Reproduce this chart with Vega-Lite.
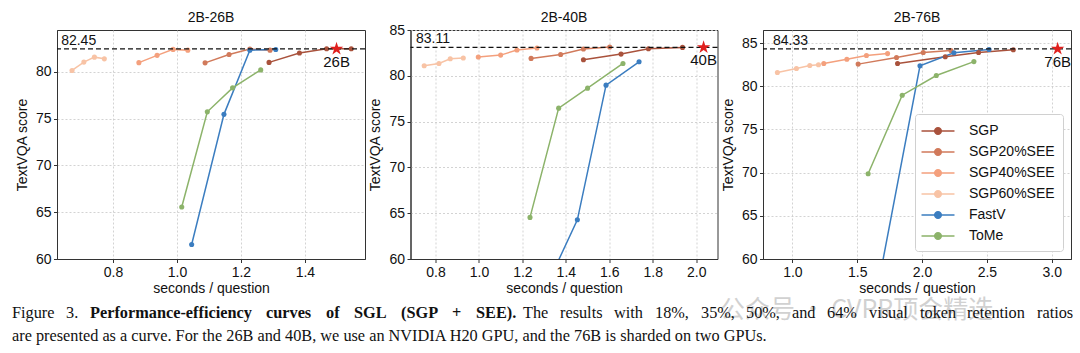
{
  "$schema": "https://vega.github.io/schema/vega-lite/v6.json",
  "padding": {"left": 12, "top": 10, "right": 5, "bottom": 5},
  "background": "white",
  "config": {
    "font": "Liberation Sans",
    "view": {"stroke": "#333333", "strokeWidth": 1},
    "axis": {
      "labelFont": "Liberation Sans", "labelFontSize": 14, "labelColor": "#111111",
      "titleFont": "Liberation Sans", "titleFontSize": 14, "titleFontWeight": "normal", "titleColor": "#111111",
      "tickSize": 3.5, "tickColor": "#333333", "domainColor": "#333333", "labelPadding": 2.5,
      "grid": true, "gridColor": "#c8c8c8", "gridDash": [2, 2], "gridWidth": 0.8
    },
    "axisX": {"titlePadding": 2},
    "axisY": {"titlePadding": 6}
  },
  "datasets": {
    "pts": [
      {"panel": "2B-26B", "method": "SGP60%SEE", "x": 0.672, "y": 80.14},
      {"panel": "2B-26B", "method": "SGP60%SEE", "x": 0.709, "y": 81.03},
      {"panel": "2B-26B", "method": "SGP60%SEE", "x": 0.742, "y": 81.56},
      {"panel": "2B-26B", "method": "SGP60%SEE", "x": 0.773, "y": 81.38},
      {"panel": "2B-26B", "method": "SGP40%SEE", "x": 0.881, "y": 80.97},
      {"panel": "2B-26B", "method": "SGP40%SEE", "x": 0.938, "y": 81.75},
      {"panel": "2B-26B", "method": "SGP40%SEE", "x": 0.988, "y": 82.39},
      {"panel": "2B-26B", "method": "SGP40%SEE", "x": 1.034, "y": 82.31},
      {"panel": "2B-26B", "method": "SGP20%SEE", "x": 1.088, "y": 80.95},
      {"panel": "2B-26B", "method": "SGP20%SEE", "x": 1.163, "y": 81.85},
      {"panel": "2B-26B", "method": "SGP20%SEE", "x": 1.228, "y": 82.42},
      {"panel": "2B-26B", "method": "SGP20%SEE", "x": 1.291, "y": 82.31},
      {"panel": "2B-26B", "method": "SGP", "x": 1.288, "y": 81.0},
      {"panel": "2B-26B", "method": "SGP", "x": 1.383, "y": 82.0},
      {"panel": "2B-26B", "method": "SGP", "x": 1.468, "y": 82.45},
      {"panel": "2B-26B", "method": "SGP", "x": 1.545, "y": 82.45},
      {"panel": "2B-26B", "method": "FastV", "x": 1.046, "y": 61.55},
      {"panel": "2B-26B", "method": "FastV", "x": 1.147, "y": 75.45},
      {"panel": "2B-26B", "method": "FastV", "x": 1.228, "y": 82.3},
      {"panel": "2B-26B", "method": "FastV", "x": 1.309, "y": 82.38},
      {"panel": "2B-26B", "method": "ToMe", "x": 1.015, "y": 65.55},
      {"panel": "2B-26B", "method": "ToMe", "x": 1.095, "y": 75.72},
      {"panel": "2B-26B", "method": "ToMe", "x": 1.174, "y": 78.28},
      {"panel": "2B-26B", "method": "ToMe", "x": 1.262, "y": 80.2},
      {"panel": "2B-40B", "method": "SGP60%SEE", "x": 0.748, "y": 81.09},
      {"panel": "2B-40B", "method": "SGP60%SEE", "x": 0.816, "y": 81.35},
      {"panel": "2B-40B", "method": "SGP60%SEE", "x": 0.868, "y": 81.86},
      {"panel": "2B-40B", "method": "SGP60%SEE", "x": 0.928, "y": 81.94},
      {"panel": "2B-40B", "method": "SGP40%SEE", "x": 0.997, "y": 82.05},
      {"panel": "2B-40B", "method": "SGP40%SEE", "x": 1.1, "y": 82.26},
      {"panel": "2B-40B", "method": "SGP40%SEE", "x": 1.175, "y": 82.81},
      {"panel": "2B-40B", "method": "SGP40%SEE", "x": 1.267, "y": 83.03},
      {"panel": "2B-40B", "method": "SGP20%SEE", "x": 1.24, "y": 81.9},
      {"panel": "2B-40B", "method": "SGP20%SEE", "x": 1.376, "y": 82.33},
      {"panel": "2B-40B", "method": "SGP20%SEE", "x": 1.481, "y": 82.92},
      {"panel": "2B-40B", "method": "SGP20%SEE", "x": 1.602, "y": 83.14},
      {"panel": "2B-40B", "method": "SGP", "x": 1.481, "y": 81.75},
      {"panel": "2B-40B", "method": "SGP", "x": 1.654, "y": 82.37},
      {"panel": "2B-40B", "method": "SGP", "x": 1.78, "y": 82.95},
      {"panel": "2B-40B", "method": "SGP", "x": 1.937, "y": 83.1},
      {"panel": "2B-40B", "method": "FastV", "x": 1.173, "y": 50.0},
      {"panel": "2B-40B", "method": "FastV", "x": 1.453, "y": 64.28},
      {"panel": "2B-40B", "method": "FastV", "x": 1.585, "y": 78.98},
      {"panel": "2B-40B", "method": "FastV", "x": 1.737, "y": 81.53},
      {"panel": "2B-40B", "method": "ToMe", "x": 1.235, "y": 64.54},
      {"panel": "2B-40B", "method": "ToMe", "x": 1.367, "y": 76.47},
      {"panel": "2B-40B", "method": "ToMe", "x": 1.5, "y": 78.65},
      {"panel": "2B-40B", "method": "ToMe", "x": 1.663, "y": 81.35},
      {"panel": "2B-76B", "method": "SGP60%SEE", "x": 0.884, "y": 81.59},
      {"panel": "2B-76B", "method": "SGP60%SEE", "x": 1.031, "y": 82.05},
      {"panel": "2B-76B", "method": "SGP60%SEE", "x": 1.134, "y": 82.4},
      {"panel": "2B-76B", "method": "SGP60%SEE", "x": 1.201, "y": 82.48},
      {"panel": "2B-76B", "method": "SGP40%SEE", "x": 1.242, "y": 82.63},
      {"panel": "2B-76B", "method": "SGP40%SEE", "x": 1.42, "y": 83.12},
      {"panel": "2B-76B", "method": "SGP40%SEE", "x": 1.571, "y": 83.56},
      {"panel": "2B-76B", "method": "SGP40%SEE", "x": 1.734, "y": 83.78},
      {"panel": "2B-76B", "method": "SGP20%SEE", "x": 1.507, "y": 82.56},
      {"panel": "2B-76B", "method": "SGP20%SEE", "x": 1.803, "y": 83.33},
      {"panel": "2B-76B", "method": "SGP20%SEE", "x": 2.009, "y": 83.91},
      {"panel": "2B-76B", "method": "SGP20%SEE", "x": 2.223, "y": 84.14},
      {"panel": "2B-76B", "method": "SGP", "x": 1.811, "y": 82.63},
      {"panel": "2B-76B", "method": "SGP", "x": 2.179, "y": 83.41},
      {"panel": "2B-76B", "method": "SGP", "x": 2.436, "y": 83.91},
      {"panel": "2B-76B", "method": "SGP", "x": 2.704, "y": 84.22},
      {"panel": "2B-76B", "method": "FastV", "x": 1.573, "y": 50.0},
      {"panel": "2B-76B", "method": "FastV", "x": 1.984, "y": 82.36},
      {"panel": "2B-76B", "method": "FastV", "x": 2.246, "y": 83.88},
      {"panel": "2B-76B", "method": "FastV", "x": 2.517, "y": 84.25},
      {"panel": "2B-76B", "method": "ToMe", "x": 1.584, "y": 69.87},
      {"panel": "2B-76B", "method": "ToMe", "x": 1.847, "y": 78.96},
      {"panel": "2B-76B", "method": "ToMe", "x": 2.11, "y": 81.24},
      {"panel": "2B-76B", "method": "ToMe", "x": 2.4, "y": 82.85}
    ],
    "refs": [
      {"panel": "2B-26B", "model": "26B", "x": 1.499, "y": 82.45},
      {"panel": "2B-40B", "model": "40B", "x": 2.034, "y": 83.11},
      {"panel": "2B-76B", "model": "76B", "x": 3.046, "y": 84.33}
    ],
    "caption": [
      {"seg": "a1", "text": "Figure"},
      {"seg": "a2", "text": "3."},
      {"seg": "b1", "text": "Performance-efficiency"},
      {"seg": "b2", "text": "curves"},
      {"seg": "b3", "text": "of"},
      {"seg": "b4", "text": "SGL"},
      {"seg": "b5", "text": "(SGP"},
      {"seg": "b6", "text": "+"},
      {"seg": "b7", "text": "SEE)."},
      {"seg": "c01", "text": "The"},
      {"seg": "c02", "text": "results"},
      {"seg": "c03", "text": "with"},
      {"seg": "c04", "text": "18%,"},
      {"seg": "c05", "text": "35%,"},
      {"seg": "c06", "text": "50%,"},
      {"seg": "c07", "text": "and"},
      {"seg": "c08", "text": "64%"},
      {"seg": "c09", "text": "visual"},
      {"seg": "c10", "text": "token"},
      {"seg": "c11", "text": "retention"},
      {"seg": "c12", "text": "ratios"},
      {"seg": "d", "text": "are presented as a curve. For the 26B and 40B, we use an NVIDIA H20 GPU, and the 76B is sharded on two GPUs."},
      {"seg": "w", "text": "公众号 · CVPR顶会精选"}
    ]
  },
  "vconcat": [
    {
      "hconcat": [
        {
          "width": 308, "height": 229,
          "title": {"text": "2B-26B", "font": "Liberation Sans", "fontSize": 14, "fontWeight": "normal", "color": "#111111", "offset": 5},
          "layer": [
            {
              "data": {"name": "pts"},
              "transform": [{"filter": "datum.panel === '2B-26B'"}],
              "mark": {"type": "line", "strokeWidth": 1.5, "clip": true, "point": {"filled": true, "size": 26, "opacity": 1}},
              "encoding": {
                "x": {"field": "x", "type": "quantitative", "scale": {"domain": [0.625, 1.588], "nice": false, "zero": false}, "axis": {"values": [0.8, 1.0, 1.2, 1.4], "format": ".1f", "title": "seconds / question"}},
                "y": {"field": "y", "type": "quantitative", "scale": {"domain": [60, 84.46], "nice": false, "zero": false}, "axis": {"values": [60, 65, 70, 75, 80], "title": "TextVQA score"}},
                "color": {"field": "method", "type": "nominal", "scale": {"domain": ["SGP", "SGP20%SEE", "SGP40%SEE", "SGP60%SEE", "FastV", "ToMe"], "range": ["#a9523c", "#d17a5b", "#f4a07d", "#f8c3a5", "#3b7dc0", "#8cb36a"]}, "legend": null}
              }
            },
            {
              "data": {"name": "refs"},
              "transform": [{"filter": "datum.panel === '2B-26B'"}],
              "mark": {"type": "rule", "color": "#111111", "strokeDash": [5, 3], "strokeWidth": 1.3},
              "encoding": {"y": {"field": "y", "type": "quantitative"}}
            },
            {
              "data": {"name": "refs"},
              "transform": [{"filter": "datum.panel === '2B-26B'"}],
              "mark": {"type": "point", "shape": "M0,-1L0.225,-0.309L0.951,-0.309L0.363,0.118L0.588,0.809L0,0.382L-0.588,0.809L-0.363,0.118L-0.951,-0.309L-0.225,-0.309Z", "filled": true, "color": "#e0201e", "size": 200, "opacity": 1},
              "encoding": {"x": {"field": "x", "type": "quantitative"}, "y": {"field": "y", "type": "quantitative"}}
            },
            {
              "data": {"name": "refs"},
              "transform": [{"filter": "datum.panel === '2B-26B'"}],
              "mark": {"type": "text", "align": "left", "baseline": "bottom", "dy": -1, "fontSize": 14, "color": "#111111"},
              "encoding": {"x": {"datum": 0.638}, "y": {"field": "y", "type": "quantitative"}, "text": {"field": "y", "type": "quantitative", "format": ".2f"}}
            },
            {
              "data": {"name": "refs"},
              "transform": [{"filter": "datum.panel === '2B-26B'"}],
              "mark": {"type": "text", "align": "center", "baseline": "top", "dy": 6, "fontSize": 15, "color": "#111111"},
              "encoding": {"x": {"field": "x", "type": "quantitative"}, "y": {"field": "y", "type": "quantitative"}, "text": {"field": "model"}}
            }
          ]
        },
        {
          "width": 307, "height": 229,
          "title": {"text": "2B-40B", "font": "Liberation Sans", "fontSize": 14, "fontWeight": "normal", "color": "#111111", "offset": -2},
          "layer": [
            {
              "data": {"name": "pts"},
              "transform": [{"filter": "datum.panel === '2B-40B'"}],
              "mark": {"type": "line", "strokeWidth": 1.5, "clip": true, "point": {"filled": true, "size": 26, "opacity": 1}},
              "encoding": {
                "x": {"field": "x", "type": "quantitative", "scale": {"domain": [0.685, 2.098], "nice": false, "zero": false}, "axis": {"values": [0.8, 1.0, 1.2, 1.4, 1.6, 1.8, 2.0], "format": ".1f", "title": "seconds / question"}},
                "y": {"field": "y", "type": "quantitative", "scale": {"domain": [60, 85], "nice": false, "zero": false}, "axis": {"values": [60, 65, 70, 75, 80, 85], "title": "TextVQA score"}},
                "color": {"field": "method", "type": "nominal", "scale": {"domain": ["SGP", "SGP20%SEE", "SGP40%SEE", "SGP60%SEE", "FastV", "ToMe"], "range": ["#a9523c", "#d17a5b", "#f4a07d", "#f8c3a5", "#3b7dc0", "#8cb36a"]}, "legend": null}
              }
            },
            {
              "data": {"name": "refs"},
              "transform": [{"filter": "datum.panel === '2B-40B'"}],
              "mark": {"type": "rule", "color": "#111111", "strokeDash": [5, 3], "strokeWidth": 1.3},
              "encoding": {"y": {"field": "y", "type": "quantitative"}}
            },
            {
              "data": {"name": "refs"},
              "transform": [{"filter": "datum.panel === '2B-40B'"}],
              "mark": {"type": "point", "shape": "M0,-1L0.225,-0.309L0.951,-0.309L0.363,0.118L0.588,0.809L0,0.382L-0.588,0.809L-0.363,0.118L-0.951,-0.309L-0.225,-0.309Z", "filled": true, "color": "#e0201e", "size": 200, "opacity": 1},
              "encoding": {"x": {"field": "x", "type": "quantitative"}, "y": {"field": "y", "type": "quantitative"}}
            },
            {
              "data": {"name": "refs"},
              "transform": [{"filter": "datum.panel === '2B-40B'"}],
              "mark": {"type": "text", "align": "left", "baseline": "bottom", "dy": -1, "fontSize": 14, "color": "#111111"},
              "encoding": {"x": {"datum": 0.71}, "y": {"field": "y", "type": "quantitative"}, "text": {"field": "y", "type": "quantitative", "format": ".2f"}}
            },
            {
              "data": {"name": "refs"},
              "transform": [{"filter": "datum.panel === '2B-40B'"}],
              "mark": {"type": "text", "align": "center", "baseline": "top", "dy": 6, "fontSize": 15, "color": "#111111"},
              "encoding": {"x": {"field": "x", "type": "quantitative"}, "y": {"field": "y", "type": "quantitative"}, "text": {"field": "model"}}
            }
          ]
        },
        {
          "width": 308, "height": 229,
          "title": {"text": "2B-76B", "font": "Liberation Sans", "fontSize": 14, "fontWeight": "normal", "color": "#111111", "offset": 5},
          "layer": [
            {
              "data": {"name": "pts"},
              "transform": [{"filter": "datum.panel === '2B-76B'"}],
              "mark": {"type": "line", "strokeWidth": 1.5, "clip": true, "point": {"filled": true, "size": 26, "opacity": 1}},
              "encoding": {
                "x": {"field": "x", "type": "quantitative", "scale": {"domain": [0.773, 3.149], "nice": false, "zero": false}, "axis": {"values": [1.0, 1.5, 2.0, 2.5, 3.0], "format": ".1f", "title": "seconds / question"}},
                "y": {"field": "y", "type": "quantitative", "scale": {"domain": [60, 86.51], "nice": false, "zero": false}, "axis": {"values": [60, 65, 70, 75, 80, 85], "title": "TextVQA score"}},
                "color": {
                  "field": "method", "type": "nominal",
                  "scale": {"domain": ["SGP", "SGP20%SEE", "SGP40%SEE", "SGP60%SEE", "FastV", "ToMe"], "range": ["#a9523c", "#d17a5b", "#f4a07d", "#f8c3a5", "#3b7dc0", "#8cb36a"]},
                  "legend": {
                    "title": null, "orient": "bottom-right", "offset": 8,
                    "symbolType": "M-2,0H2M0.4,0A0.4,0.4,0,1,1,-0.4,0A0.4,0.4,0,1,1,0.4,0",
                    "symbolSize": 272, "symbolStrokeWidth": 1.5, "symbolOffset": 6,
                    "labelFont": "Liberation Sans", "labelFontSize": 14, "labelColor": "#111111",
                    "labelOffset": 22, "rowPadding": 5,
                    "padding": 8, "strokeColor": "#d0d0d0", "fillColor": "white", "cornerRadius": 3,
                    "encode": {"symbols": {"update": {"fill": {"signal": "datum.value == 'SGP' ? '#a9523c' : datum.value == 'SGP20%SEE' ? '#d17a5b' : datum.value == 'SGP40%SEE' ? '#f4a07d' : datum.value == 'SGP60%SEE' ? '#f8c3a5' : datum.value == 'FastV' ? '#3b7dc0' : '#8cb36a'"}, "opacity": {"value": 1}}}}
                  }
                }
              }
            },
            {
              "data": {"name": "refs"},
              "transform": [{"filter": "datum.panel === '2B-76B'"}],
              "mark": {"type": "rule", "color": "#111111", "strokeDash": [5, 3], "strokeWidth": 1.3},
              "encoding": {"y": {"field": "y", "type": "quantitative"}}
            },
            {
              "data": {"name": "refs"},
              "transform": [{"filter": "datum.panel === '2B-76B'"}],
              "mark": {"type": "point", "shape": "M0,-1L0.225,-0.309L0.951,-0.309L0.363,0.118L0.588,0.809L0,0.382L-0.588,0.809L-0.363,0.118L-0.951,-0.309L-0.225,-0.309Z", "filled": true, "color": "#e0201e", "size": 200, "opacity": 1},
              "encoding": {"x": {"field": "x", "type": "quantitative"}, "y": {"field": "y", "type": "quantitative"}}
            },
            {
              "data": {"name": "refs"},
              "transform": [{"filter": "datum.panel === '2B-76B'"}],
              "mark": {"type": "text", "align": "left", "baseline": "bottom", "dy": -1, "fontSize": 14, "color": "#111111"},
              "encoding": {"x": {"datum": 0.85}, "y": {"field": "y", "type": "quantitative"}, "text": {"field": "y", "type": "quantitative", "format": ".2f"}}
            },
            {
              "data": {"name": "refs"},
              "transform": [{"filter": "datum.panel === '2B-76B'"}],
              "mark": {"type": "text", "align": "center", "baseline": "top", "dy": 6, "fontSize": 15, "color": "#111111"},
              "encoding": {"x": {"field": "x", "type": "quantitative"}, "y": {"field": "y", "type": "quantitative"}, "text": {"field": "model"}}
            }
          ]
        }
      ],
      "bounds": "flush",
      "spacing": 45.5,
      "resolve": {"scale": {"color": "independent"}, "legend": {"color": "independent"}}
    },
    {
      "width": 1014, "height": 50,
      "view": {"stroke": null},
      "data": {"name": "caption"},
      "layer": [
        {"transform": [{"filter": "datum.seg === 'w'"}], "mark": {"type": "text", "align": "left", "baseline": "middle", "dx": 156, "dy": -11, "font": "Noto Sans CJK SC", "fontSize": 25, "color": "#9a9a9a", "opacity": 0.45}, "encoding": {"text": {"field": "text"}}},
        {"transform": [{"filter": "datum.seg === 'a1'"}], "mark": {"type": "text", "align": "left", "baseline": "middle", "dx": -552, "dy": -8, "font": "Liberation Serif", "fontSize": 16.3, "color": "#111111"}, "encoding": {"text": {"field": "text"}}},
        {"transform": [{"filter": "datum.seg === 'a2'"}], "mark": {"type": "text", "align": "left", "baseline": "middle", "dx": -498, "dy": -8, "font": "Liberation Serif", "fontSize": 16.3, "color": "#111111"}, "encoding": {"text": {"field": "text"}}},
        {"transform": [{"filter": "datum.seg === 'b1'"}], "mark": {"type": "text", "align": "left", "baseline": "middle", "dx": -474, "dy": -8, "font": "Liberation Serif", "fontSize": 16.3, "fontWeight": "bold", "color": "#111111"}, "encoding": {"text": {"field": "text"}}},
        {"transform": [{"filter": "datum.seg === 'b2'"}], "mark": {"type": "text", "align": "left", "baseline": "middle", "dx": -298, "dy": -8, "font": "Liberation Serif", "fontSize": 16.3, "fontWeight": "bold", "color": "#111111"}, "encoding": {"text": {"field": "text"}}},
        {"transform": [{"filter": "datum.seg === 'b3'"}], "mark": {"type": "text", "align": "left", "baseline": "middle", "dx": -238, "dy": -8, "font": "Liberation Serif", "fontSize": 16.3, "fontWeight": "bold", "color": "#111111"}, "encoding": {"text": {"field": "text"}}},
        {"transform": [{"filter": "datum.seg === 'b4'"}], "mark": {"type": "text", "align": "left", "baseline": "middle", "dx": -210, "dy": -8, "font": "Liberation Serif", "fontSize": 16.3, "fontWeight": "bold", "color": "#111111"}, "encoding": {"text": {"field": "text"}}},
        {"transform": [{"filter": "datum.seg === 'b5'"}], "mark": {"type": "text", "align": "left", "baseline": "middle", "dx": -163, "dy": -8, "font": "Liberation Serif", "fontSize": 16.3, "fontWeight": "bold", "color": "#111111"}, "encoding": {"text": {"field": "text"}}},
        {"transform": [{"filter": "datum.seg === 'b6'"}], "mark": {"type": "text", "align": "left", "baseline": "middle", "dx": -112, "dy": -8, "font": "Liberation Serif", "fontSize": 16.3, "fontWeight": "bold", "color": "#111111"}, "encoding": {"text": {"field": "text"}}},
        {"transform": [{"filter": "datum.seg === 'b7'"}], "mark": {"type": "text", "align": "left", "baseline": "middle", "dx": -88, "dy": -8, "font": "Liberation Serif", "fontSize": 16.3, "fontWeight": "bold", "color": "#111111"}, "encoding": {"text": {"field": "text"}}},
        {"transform": [{"filter": "datum.seg === 'c01'"}], "mark": {"type": "text", "align": "left", "baseline": "middle", "dx": -41, "dy": -8, "font": "Liberation Serif", "fontSize": 16.3, "color": "#111111"}, "encoding": {"text": {"field": "text"}}},
        {"transform": [{"filter": "datum.seg === 'c02'"}], "mark": {"type": "text", "align": "left", "baseline": "middle", "dx": -4, "dy": -8, "font": "Liberation Serif", "fontSize": 16.3, "color": "#111111"}, "encoding": {"text": {"field": "text"}}},
        {"transform": [{"filter": "datum.seg === 'c03'"}], "mark": {"type": "text", "align": "left", "baseline": "middle", "dx": 50, "dy": -8, "font": "Liberation Serif", "fontSize": 16.3, "color": "#111111"}, "encoding": {"text": {"field": "text"}}},
        {"transform": [{"filter": "datum.seg === 'c04'"}], "mark": {"type": "text", "align": "left", "baseline": "middle", "dx": 91, "dy": -8, "font": "Liberation Serif", "fontSize": 16.3, "color": "#111111"}, "encoding": {"text": {"field": "text"}}},
        {"transform": [{"filter": "datum.seg === 'c05'"}], "mark": {"type": "text", "align": "left", "baseline": "middle", "dx": 137, "dy": -8, "font": "Liberation Serif", "fontSize": 16.3, "color": "#111111"}, "encoding": {"text": {"field": "text"}}},
        {"transform": [{"filter": "datum.seg === 'c06'"}], "mark": {"type": "text", "align": "left", "baseline": "middle", "dx": 182, "dy": -8, "font": "Liberation Serif", "fontSize": 16.3, "color": "#111111"}, "encoding": {"text": {"field": "text"}}},
        {"transform": [{"filter": "datum.seg === 'c07'"}], "mark": {"type": "text", "align": "left", "baseline": "middle", "dx": 228, "dy": -8, "font": "Liberation Serif", "fontSize": 16.3, "color": "#111111"}, "encoding": {"text": {"field": "text"}}},
        {"transform": [{"filter": "datum.seg === 'c08'"}], "mark": {"type": "text", "align": "left", "baseline": "middle", "dx": 263, "dy": -8, "font": "Liberation Serif", "fontSize": 16.3, "color": "#111111"}, "encoding": {"text": {"field": "text"}}},
        {"transform": [{"filter": "datum.seg === 'c09'"}], "mark": {"type": "text", "align": "left", "baseline": "middle", "dx": 305, "dy": -8, "font": "Liberation Serif", "fontSize": 16.3, "color": "#111111"}, "encoding": {"text": {"field": "text"}}},
        {"transform": [{"filter": "datum.seg === 'c10'"}], "mark": {"type": "text", "align": "left", "baseline": "middle", "dx": 356, "dy": -8, "font": "Liberation Serif", "fontSize": 16.3, "color": "#111111"}, "encoding": {"text": {"field": "text"}}},
        {"transform": [{"filter": "datum.seg === 'c11'"}], "mark": {"type": "text", "align": "left", "baseline": "middle", "dx": 403, "dy": -8, "font": "Liberation Serif", "fontSize": 16.3, "color": "#111111"}, "encoding": {"text": {"field": "text"}}},
        {"transform": [{"filter": "datum.seg === 'c12'"}], "mark": {"type": "text", "align": "left", "baseline": "middle", "dx": 473, "dy": -8, "font": "Liberation Serif", "fontSize": 16.3, "color": "#111111"}, "encoding": {"text": {"field": "text"}}},
        {"transform": [{"filter": "datum.seg === 'd'"}], "mark": {"type": "text", "align": "left", "baseline": "middle", "dx": -552, "dy": 15, "font": "Liberation Serif", "fontSize": 16.3, "color": "#111111"}, "encoding": {"text": {"field": "text"}}}
      ]
    }
  ],
  "spacing": 0
}
